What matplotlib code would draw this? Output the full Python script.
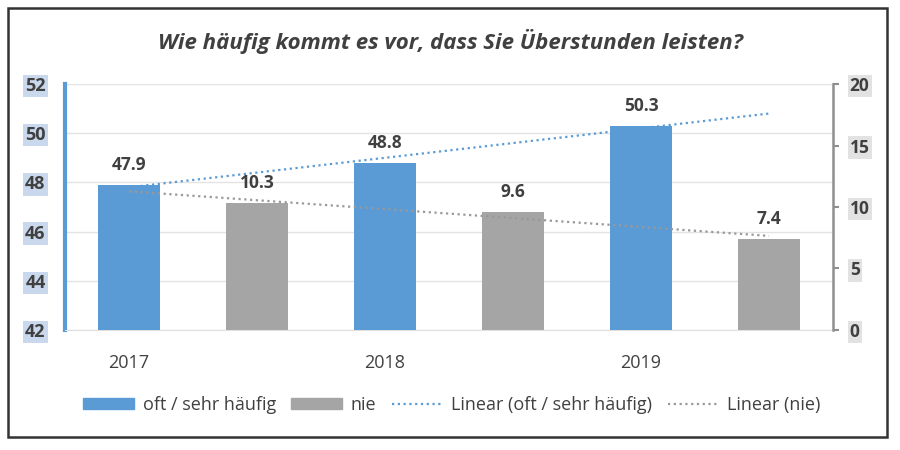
import numpy as np
import matplotlib.pyplot as plt
from matplotlib.patches import Rectangle, Patch
from matplotlib.lines import Line2D

plt.rcParams['font.family'] = ['Open Sans', 'DejaVu Sans']

# Daten
jahre = ['2017', '2018', '2019']
oft = [47.9, 48.8, 50.3]      # linke Achse
nie = [10.3, 9.6, 7.4]        # rechte Achse
x_oft = np.array([0, 2, 4])
x_nie = np.array([1, 3, 5])

blau = '#5B9BD5'
grau = '#A5A5A5'
txt = '#404040'

fig = plt.figure(figsize=(9, 4.5), dpi=100)
ax = fig.add_axes([0.0722, 0.2667, 0.8534, 0.5466])
ax2 = ax.twinx()

ax.bar(x_oft, oft, width=0.49, color=blau, bottom=0, zorder=3)
ax2.bar(x_nie, nie, width=0.49, color=grau, zorder=3)

ax.set_ylim(42, 52)
ax2.set_ylim(0, 20)
ax.set_xlim(-0.5, 5.5)

# Trendlinien (lineare Regression wie in Excel)
xs = np.array([0, 5])
k1 = np.polyfit(x_oft, oft, 1)
k2 = np.polyfit(x_nie, nie, 1)
ax.plot(xs, np.polyval(k1, xs), ls=(0, (1, 1.6)), color=blau, lw=1.6, zorder=4)
ax2.plot(xs, np.polyval(k2, xs), ls=(0, (1, 1.6)), color='#999999', lw=1.6, zorder=4)

for xi, v in zip(x_oft, oft):
    ax.text(xi, v + 0.45, f'{v:.1f}', ha='center', va='bottom', fontsize=12.5,
            fontweight='bold', color=txt, zorder=5)
for xi, v in zip(x_nie, nie):
    ax2.text(xi, v + 0.9, f'{v:.1f}', ha='center', va='bottom', fontsize=12.5,
             fontweight='bold', color=txt, zorder=5)

ax.set_yticks(range(42, 53, 2))
ax.yaxis.grid(True, color='#E3E3E3', lw=1, zorder=0)
ax.set_axisbelow(True)
ax.set_xticks(x_oft)
ax.set_xticklabels(jahre, fontsize=13, color='#404040')
ax.tick_params(axis='x', length=0, pad=17)
ax.tick_params(axis='y', length=0, pad=14, labelsize=13, labelcolor=txt)
for lab in ax.get_yticklabels():
    lab.set_fontweight('bold')
    lab.set_bbox(dict(facecolor='#C9D8EC', edgecolor='none', pad=1.5))

ax2.set_yticks(range(0, 21, 5))
ax2.tick_params(axis='y', length=4, width=1.5, color='#8F8F8F', pad=8,
                labelsize=12.5, labelcolor=txt)
for lab in ax2.get_yticklabels():
    lab.set_fontweight('bold')
    lab.set_bbox(dict(facecolor='#E2E2E2', edgecolor='none', pad=1.5))

for a in (ax, ax2):
    for s in ('top', 'bottom', 'left', 'right'):
        a.spines[s].set_visible(False)
ax.spines['left'].set_visible(True)
ax.spines['left'].set_color(blau)
ax.spines['left'].set_linewidth(3)
ax.spines['bottom'].set_visible(True)
ax.spines['bottom'].set_color('#E0E0E0')
ax2.spines['right'].set_visible(True)
ax2.spines['right'].set_color('#8F8F8F')
ax2.spines['right'].set_linewidth(1.8)

fig.text(0.5, 0.907, 'Wie häufig kommt es vor, dass Sie Überstunden leisten?',
         ha='center', va='center', fontsize=16, fontweight='bold',
         fontstyle='italic', color=txt)

handles = [Patch(color=blau), Patch(color=grau),
           Line2D([], [], ls=(0, (1, 1.6)), color=blau, lw=1.6),
           Line2D([], [], ls=(0, (1, 1.6)), color='#999999', lw=1.6)]
labels = ['oft / sehr häufig', 'nie', 'Linear (oft / sehr häufig)', 'Linear (nie)']
leg = fig.legend(handles, labels, loc='center', bbox_to_anchor=(0.502, 0.1),
                 ncol=4, frameon=False, fontsize=13, handlelength=2.8,
                 handleheight=0.5, handletextpad=0.5, columnspacing=0.85)
for t in leg.get_texts():
    t.set_color(txt)

fig.patches.append(Rectangle((0.009, 0.029), 0.977, 0.953, transform=fig.transFigure,
                             fill=False, edgecolor='#333333', lw=1.8))

fig.savefig('out.png', dpi=100)
